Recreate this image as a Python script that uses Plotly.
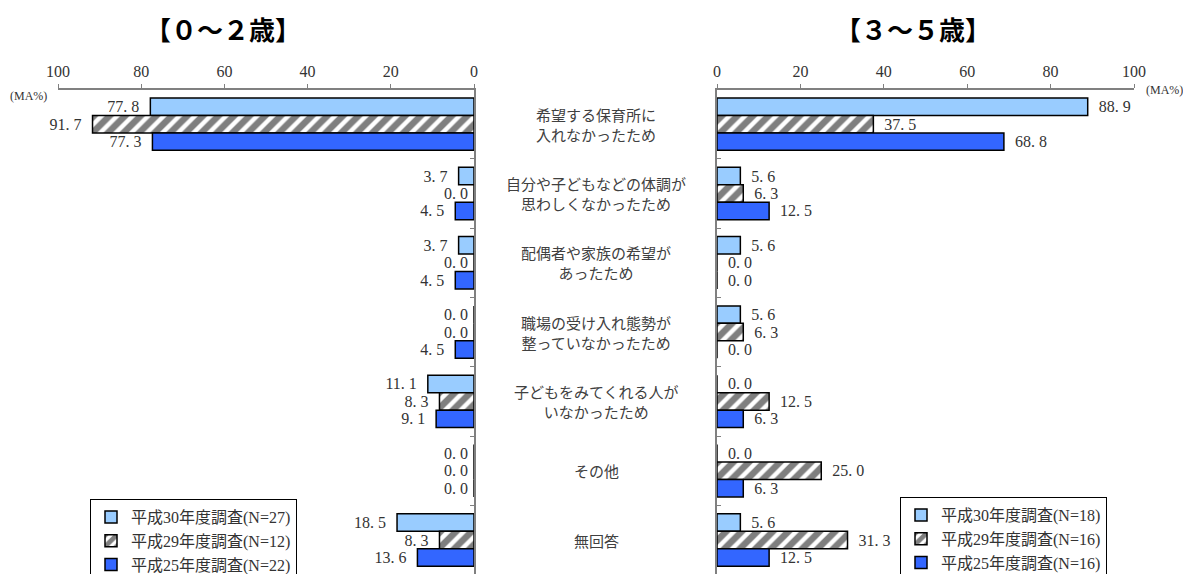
import plotly.graph_objects as go

categories = [
    '希望する保育所に<br>入れなかったため',
    '自分や子どもなどの体調が<br>思わしくなかったため',
    '配偶者や家族の希望が<br>あったため',
    '職場の受け入れ態勢が<br>整っていなかったため',
    '子どもをみてくれる人が<br>いなかったため',
    'その他',
    '無回答',
]

# 0~2歳
age02_h30 = [77.8, 3.7, 3.7, 0.0, 11.1, 0.0, 18.5]
age02_h29 = [91.7, 0.0, 0.0, 0.0, 8.3, 0.0, 8.3]
age02_h25 = [77.3, 4.5, 4.5, 4.5, 9.1, 0.0, 13.6]
age02_names = ['平成30年度調査(N=27)', '平成29年度調査(N=12)', '平成25年度調査(N=22)']

# 3~5歳
age35_h30 = [88.9, 5.6, 5.6, 5.6, 0.0, 0.0, 5.6]
age35_h29 = [37.5, 6.3, 0.0, 6.3, 12.5, 25.0, 31.3]
age35_h25 = [68.8, 12.5, 0.0, 0.0, 6.3, 6.3, 12.5]
age35_names = ['平成30年度調査(N=18)', '平成29年度調査(N=16)', '平成25年度調査(N=16)']

tick_vals = [0, 20, 40, 60, 80, 100]

serif = 'Liberation Serif, Noto Sans CJK JP'
gothic = 'Noto Sans CJK JP'
NB = '\u00a0'

# the page body has an 8px margin, so work in screen pixels and shift
OFF = 8
W, H = 1191 - OFF, 574 - OFF


def px_x(x):
    return (x - OFF) / W


def px_y(y):
    return 1 - (y - OFF) / H


def fmt(v):
    # mimic the wide half-width period of the original font
    return ('%.1f' % v).replace('.', '. ')


styles = [
    dict(color='#99CCFF', line=dict(color='black', width=1.5)),
    dict(color='white', line=dict(color='black', width=1.5),
         pattern=dict(shape='/', fgcolor='black', bgcolor='white', size=11, solidity=0.6)),
    dict(color='#3366FF', line=dict(color='black', width=1.5)),
]

fig = go.Figure()

left_sets = [age02_h30, age02_h29, age02_h25]
right_sets = [age35_h30, age35_h29, age35_h25]

for i, vals in enumerate(left_sets):
    fig.add_trace(go.Bar(
        x=vals, y=categories, orientation='h', name=age02_names[i],
        marker=styles[i], xaxis='x', yaxis='y',
        text=[fmt(v) + NB * 2 if v > 0 else '' for v in vals], textposition='outside',
        textfont=dict(family=serif, size=16, color='#333333'),
        constraintext='none', cliponaxis=False,
        legend='legend', legendgroup='l%d' % i,
    ))

for i, vals in enumerate(right_sets):
    fig.add_trace(go.Bar(
        x=vals, y=categories, orientation='h', name=age35_names[i],
        marker=styles[i], xaxis='x2', yaxis='y2',
        text=[NB * 2 + fmt(v) for v in vals], textposition='outside',
        textfont=dict(family=serif, size=16, color='#333333'),
        constraintext='none', cliponaxis=False,
        legend='legend2', legendgroup='r%d' % i,
    ))

xcommon = dict(side='top', tickvals=tick_vals, ticks='outside', ticklen=4,
               tickcolor='#808080', showline=True, linecolor='#808080', linewidth=1.5,
               showgrid=False, zeroline=False, automargin=False,
               tickfont=dict(family=serif, size=16, color='#333333'))
ycommon = dict(type='category', categoryorder='array', categoryarray=categories,
               range=[6.49, -0.5], tickson='boundaries', ticks='inside', ticklen=4,
               tickcolor='#808080', showticklabels=False, showline=True,
               linecolor='#808080', linewidth=2, showgrid=False, zeroline=False,
               automargin=False, domain=[0, px_y(89.5)])

legcommon = dict(bgcolor='white', bordercolor='black', borderwidth=1,
                 font=dict(family=serif, size=16, color='#333333'),
                 traceorder='grouped', tracegroupgap=0, yanchor='top', xanchor='left',
                 itemwidth=30)

fig.update_layout(
    width=W, height=H,
    margin=dict(l=0, r=0, t=0, b=0, autoexpand=False),
    plot_bgcolor='white', paper_bgcolor='white',
    barmode='group', bargap=0.245, bargroupgap=0,
    xaxis=dict(xcommon, domain=[px_x(58), px_x(474)], range=[100, 0], anchor='y'),
    yaxis=dict(ycommon, anchor='x', side='right'),
    xaxis2=dict(xcommon, domain=[px_x(717), px_x(1134)], range=[0, 100], anchor='y2'),
    yaxis2=dict(ycommon, anchor='x2', side='left'),
    legend=dict(legcommon, x=px_x(90), y=px_y(499)),
    legend2=dict(legcommon, x=px_x(900), y=px_y(497)),
)

annotations = [
    dict(text='<b>【０～２歳】</b>', x=px_x(223), y=1, xref='paper', yref='paper',
         showarrow=False, font=dict(family=gothic, size=26, color='black'), xanchor='center', yanchor='top'),
    dict(text='<b>【３～５歳】</b>', x=px_x(913), y=1, xref='paper', yref='paper',
         showarrow=False, font=dict(family=gothic, size=26, color='black'), xanchor='center', yanchor='top'),
    dict(text='(MA%)', x=px_x(28), y=px_y(96), xref='paper', yref='paper',
         showarrow=False, xanchor='center', yanchor='middle',
         font=dict(family=serif, size=12, color='#333333')),
    dict(text='(MA%)', x=px_x(1164), y=px_y(90), xref='paper', yref='paper',
         showarrow=False, xanchor='center', yanchor='middle',
         font=dict(family=serif, size=12, color='#333333')),
]
for c in categories:
    annotations.append(dict(text=c, x=px_x(596), y=c, xref='paper', yref='y',
                            showarrow=False, align='center', xanchor='center', yanchor='middle',
                            font=dict(family=gothic, size=15, color='#404040')))

# zero values on the left chart: plotly puts their outside text on the wrong side,
# so place them as annotations anchored at x=0 of the matching bar slot
slot = (1 - 0.245) / 3 * 69.33
for i, vals in enumerate(left_sets):
    for c, v in zip(categories, vals):
        if v == 0:
            annotations.append(dict(text=fmt(v), x=v, y=c, xref='x', yref='y',
                                    showarrow=False, xanchor='right', xshift=-4,
                                    yshift=-(i - 1) * slot,
                                    font=dict(family=serif, size=16, color='#333333')))
fig.update_layout(annotations=annotations)

fig.write_html('out.html')
